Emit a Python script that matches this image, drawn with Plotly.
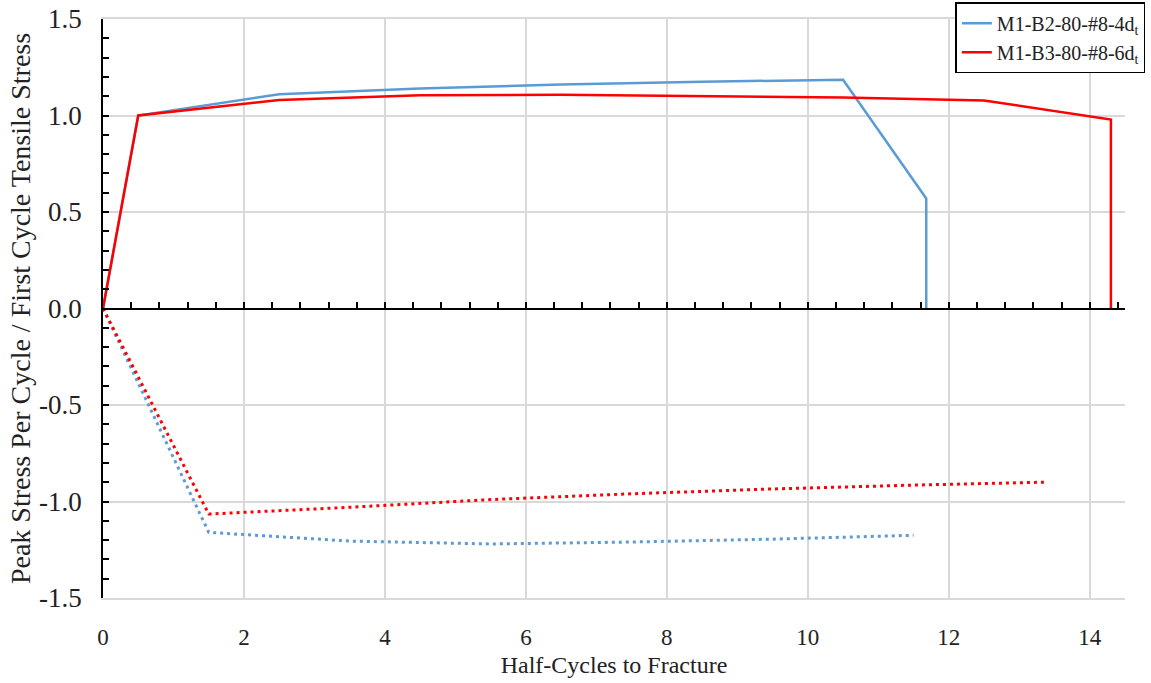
import plotly.graph_objects as go

# Tension (solid) series
b2_tension_x = [0, 0.5, 2.5, 4.5, 6.5, 8.5, 10.5, 11.68, 11.68]
b2_tension_y = [0, 1.0, 1.11, 1.14, 1.16, 1.175, 1.185, 0.57, 0.0]
b3_tension_x = [0, 0.5, 2.5, 4.5, 6.5, 8.5, 10.5, 12.5, 14.3, 14.3]
b3_tension_y = [0, 1.0, 1.08, 1.105, 1.107, 1.10, 1.093, 1.078, 0.979, 0.0]

# Compression (dotted) series
b2_comp_x = [0, 1.5, 3.5, 5.5, 7.5, 9.5, 11.5]
b2_comp_y = [0, -1.16, -1.205, -1.22, -1.21, -1.195, -1.175]
b3_comp_x = [0, 1.5, 3.5, 5.5, 7.5, 9.5, 11.5, 13.35]
b3_comp_y = [0, -1.065, -1.03, -0.99, -0.96, -0.935, -0.915, -0.9]

y_tickvals = [1.5, 1.0, 0.5, 0.0, -0.5, -1.0, -1.5]
y_ticktext = ["1.5", "1.0", "0.5", "0.0", "-0.5", "-1.0", "-1.5"]
x_tickvals = [0, 2, 4, 6, 8, 10, 12, 14]

BLUE = "#5B9BD5"
RED = "#FF0000"
FONT = "Liberation Serif"
GRID = "#d9d9d9"

fig = go.Figure()
fig.add_trace(go.Scatter(x=b2_tension_x, y=b2_tension_y, mode="lines",
                         line=dict(color=BLUE, width=2.5),
                         name="M1-B2-80-#8-4d<sub>t</sub>"))
fig.add_trace(go.Scatter(x=b3_tension_x, y=b3_tension_y, mode="lines",
                         line=dict(color=RED, width=2.5),
                         name="M1-B3-80-#8-6d<sub>t</sub>"))
fig.add_trace(go.Scatter(x=b2_comp_x, y=b2_comp_y, mode="lines",
                         line=dict(color=BLUE, width=3, dash="3px,4px"),
                         showlegend=False))
fig.add_trace(go.Scatter(x=b3_comp_x, y=b3_comp_y, mode="lines",
                         line=dict(color=RED, width=3, dash="3px,4px"),
                         showlegend=False))
# helper trace so the zero-crossing axis is drawn
fig.add_trace(go.Scatter(x=[], y=[], xaxis="x2", showlegend=False))

fig.update_layout(
    width=1151, height=683,
    margin=dict(l=103, r=26, t=19, b=85, autoexpand=False),
    paper_bgcolor="white", plot_bgcolor="white",
    font=dict(family=FONT, size=22, color="#222"),
    xaxis=dict(range=[0, 14.5], tickvals=x_tickvals, showgrid=True,
               gridcolor=GRID, gridwidth=1.5, zeroline=False,
               showline=True, linecolor=GRID, linewidth=1.5, mirror=True,
               ticks="", automargin=False,
               ticklabelstandoff=18,
               title=dict(text="Half-Cycles to Fracture", font=dict(size=24), standoff=7),
               tickfont=dict(size=23)),
    xaxis2=dict(range=[0, 14.5], overlaying="x", anchor="free", position=0.5,
                side="bottom", showgrid=False, zeroline=False, showline=True,
                linecolor="black", linewidth=1.5, ticks="inside", ticklen=6,
                tickwidth=1.5, tickcolor="black", tick0=0, dtick=0.4,
                showticklabels=False),
    yaxis=dict(range=[-1.5, 1.5], tickvals=y_tickvals, ticktext=y_ticktext,
               showgrid=True, gridcolor=GRID, gridwidth=1.5, zeroline=False,
               showline=True, linecolor="black", linewidth=1.5,
               ticks="inside", ticklen=6, tickwidth=1.5, tickcolor="black",
               automargin=False, ticklabelstandoff=14,
               minor=dict(dtick=0.1, ticks="inside", ticklen=6, tickwidth=1.5,
                          tickcolor="black", showgrid=False),
               title=dict(text="Peak Stress Per Cycle / First Cycle Tensile Stress",
                          font=dict(size=28), standoff=0),
               tickfont=dict(size=27)),
    legend=dict(x=0.834, y=1.029, xanchor="left", yanchor="top",
                bgcolor="white", bordercolor="black", borderwidth=1.5,
                font=dict(family=FONT, size=20, color="#222"),
                tracegroupgap=2),
    showlegend=True,
)

fig.write_html("out.html", config={"displayModeBar": False},
               post_script="document.body.style.margin='0';")
